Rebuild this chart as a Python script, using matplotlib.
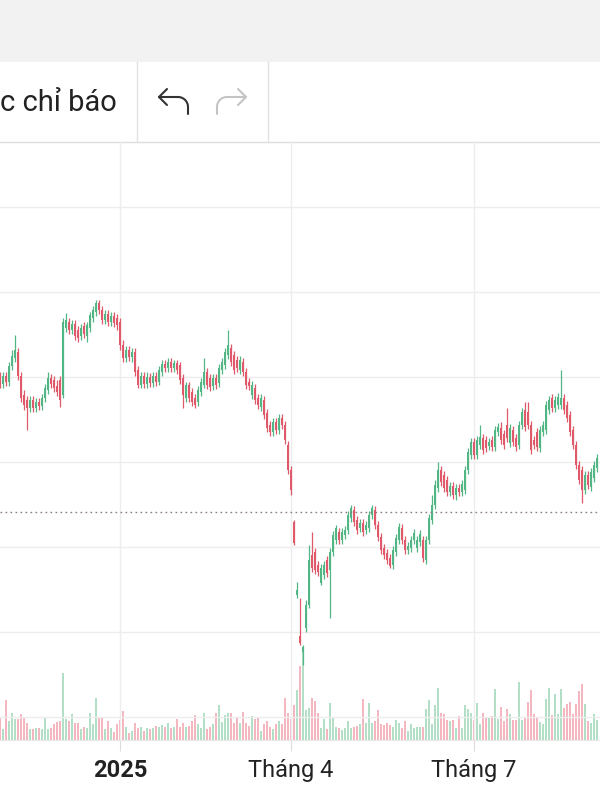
import numpy as np
import matplotlib
matplotlib.use('Agg')
import matplotlib.pyplot as plt
from matplotlib.patches import Rectangle

plt.rcParams['font.family'] = ['Roboto', 'DejaVu Sans']

# daily OHLC (price axis labels are cut off)
opens = [34.94, 34.59, 35.06, 34.71, 35.65, 36.12, 36.47, 35.06, 33.94, 33.65,
         33.18, 33.65, 33.18, 33.53, 33.30, 33.77, 34.24, 34.94, 34.83, 34.47,
         34.83, 33.94, 37.88, 38.24, 37.77, 38.12, 37.77, 37.41, 38.00, 37.41,
         37.88, 38.47, 38.82, 39.35, 38.94, 38.35, 38.71, 38.24, 38.59, 38.47,
         38.24, 36.88, 36.12, 36.59, 36.18, 36.47, 35.41, 34.53, 35.06, 34.59,
         35.00, 34.65, 35.06, 34.71, 35.30, 35.77, 35.53, 35.88, 35.53, 35.83,
         35.71, 34.94, 33.77, 34.53, 34.12, 33.77, 33.53, 34.12, 34.53, 35.30,
         34.94, 34.47, 34.94, 34.65, 35.41, 35.71, 36.30, 36.71, 36.30, 36.00,
         35.41, 35.88, 35.30, 34.71, 33.94, 34.36, 33.77, 33.24, 33.65, 32.89,
         32.18, 31.77, 32.36, 31.89, 32.59, 32.18, 31.00, 29.53, 26.48, 22.18,
         19.77, 18.83, 20.24, 21.59, 24.53, 24.71, 23.95, 22.89, 23.36, 24.24,
         23.65, 24.71, 25.42, 25.89, 25.42, 25.71, 26.01, 26.71, 27.18, 26.59,
         26.12, 26.42, 26.01, 26.12, 26.89, 27.18, 26.30, 25.59, 24.95, 24.65,
         24.36, 23.95, 24.71, 25.42, 26.12, 25.42, 24.83, 24.95, 25.42, 24.95,
         25.30, 25.42, 24.24, 25.42, 26.59, 27.48, 28.48, 29.53, 29.24, 28.95,
         28.24, 28.59, 28.06, 28.48, 28.24, 28.36, 29.53, 30.42, 31.18, 30.42,
         31.00, 31.42, 31.30, 30.95, 31.30, 30.89, 31.77, 32.00, 31.65, 32.18,
         31.12, 31.89, 31.42, 31.00, 32.18, 33.06, 32.94, 32.18, 31.30, 31.77,
         30.83, 31.77, 31.89, 33.06, 33.77, 33.18, 33.36, 33.36, 33.77, 33.36,
         32.77, 31.89, 31.00, 29.83, 29.53, 28.36, 29.24, 28.53, 29.06, 29.65]
closes = [34.59, 35.06, 34.71, 35.65, 36.24, 36.59, 35.06, 33.77, 33.36, 33.18,
          33.65, 33.18, 33.53, 33.30, 33.77, 34.36, 34.94, 34.59, 34.36, 34.12,
          33.65, 38.24, 38.35, 37.77, 38.12, 37.41, 37.30, 37.88, 37.53, 38.06,
          38.65, 38.94, 39.35, 38.94, 38.35, 38.71, 38.24, 38.59, 38.18, 38.06,
          36.88, 36.12, 36.59, 36.18, 36.47, 35.30, 34.53, 35.06, 34.59, 35.00,
          34.65, 35.06, 34.71, 35.41, 35.77, 35.53, 35.88, 35.53, 35.83, 35.41,
          34.83, 33.94, 34.53, 33.77, 33.53, 33.36, 34.24, 34.71, 35.30, 34.53,
          34.41, 34.94, 34.53, 35.53, 35.88, 36.47, 36.88, 35.88, 35.41, 35.53,
          36.00, 35.30, 34.53, 34.47, 34.53, 33.65, 33.36, 33.77, 32.77, 32.00,
          31.77, 32.36, 31.89, 32.59, 32.18, 31.30, 29.53, 28.36, 25.24, 22.48,
          19.36, 19.13, 21.59, 24.24, 23.77, 23.65, 23.54, 23.77, 23.95, 23.48,
          24.71, 25.71, 26.12, 25.42, 25.89, 26.01, 26.89, 27.30, 26.48, 26.01,
          26.42, 25.89, 26.30, 26.89, 27.30, 26.30, 25.59, 24.83, 24.53, 24.24,
          23.89, 24.83, 25.54, 26.18, 25.42, 24.83, 25.06, 25.42, 25.83, 25.42,
          25.77, 24.36, 25.42, 26.71, 27.48, 28.65, 29.53, 28.83, 28.48, 28.24,
          28.59, 28.06, 28.48, 28.24, 28.71, 29.53, 30.59, 31.18, 30.42, 31.30,
          31.47, 30.71, 30.83, 31.18, 30.89, 31.89, 32.06, 31.30, 31.00, 31.42,
          32.00, 31.18, 30.89, 32.18, 32.94, 32.06, 32.18, 30.71, 31.00, 30.89,
          31.89, 32.18, 33.36, 33.65, 33.18, 33.65, 33.83, 33.77, 33.06, 32.59,
          31.77, 31.00, 29.83, 28.95, 28.36, 29.24, 28.65, 29.42, 29.83, 30.24]
highs = [35.30, 35.30, 35.30, 35.88, 36.59, 37.47, 36.71, 35.30, 34.24, 33.89,
         33.89, 33.89, 33.77, 33.77, 34.00, 34.59, 35.30, 35.18, 35.06, 34.83,
         35.06, 38.47, 38.77, 38.47, 38.35, 38.35, 38.00, 38.12, 38.24, 38.24,
         38.82, 39.18, 39.53, 39.53, 39.18, 38.94, 38.94, 38.82, 38.82, 38.71,
         38.47, 37.18, 36.82, 36.82, 36.71, 36.71, 35.65, 35.30, 35.30, 35.30,
         35.24, 35.30, 35.30, 35.65, 36.00, 36.00, 36.12, 36.12, 36.00, 36.00,
         35.88, 35.18, 34.71, 34.71, 34.36, 34.00, 34.47, 34.94, 36.12, 35.53,
         35.18, 35.18, 35.18, 35.77, 36.12, 36.71, 37.77, 36.94, 36.53, 36.24,
         36.24, 36.12, 35.53, 34.94, 34.77, 34.59, 34.00, 34.00, 33.89, 33.12,
         32.41, 32.59, 32.59, 32.83, 32.83, 32.41, 31.24, 29.77, 26.59, 22.95,
         22.00, 19.24, 21.89, 25.12, 25.89, 24.95, 24.18, 24.01, 24.18, 24.48,
         24.95, 25.95, 26.30, 26.12, 26.12, 26.24, 27.12, 27.48, 27.42, 26.83,
         26.65, 26.65, 26.54, 27.12, 27.48, 27.42, 26.54, 25.83, 25.18, 24.89,
         24.59, 25.06, 25.77, 26.42, 26.36, 25.65, 25.30, 25.65, 26.06, 25.65,
         26.01, 25.65, 25.65, 26.95, 28.06, 28.95, 30.00, 29.77, 29.47, 29.18,
         28.83, 28.83, 28.71, 28.71, 28.95, 29.77, 30.83, 31.42, 31.42, 31.53,
         32.18, 31.65, 31.53, 31.42, 31.53, 32.12, 32.30, 32.36, 31.89, 33.18,
         32.24, 32.12, 31.65, 32.41, 33.18, 33.53, 33.53, 32.41, 31.53, 32.00,
         32.12, 32.41, 33.59, 33.89, 34.00, 33.89, 34.06, 35.41, 34.00, 33.59,
         33.00, 32.12, 31.24, 30.06, 29.77, 29.47, 29.47, 29.65, 30.06, 30.47]
lows = [34.36, 34.36, 34.47, 34.47, 35.41, 35.88, 34.83, 33.53, 33.06, 31.89,
        32.94, 32.94, 32.94, 33.06, 33.06, 33.53, 34.00, 34.36, 34.12, 33.89,
        33.24, 33.77, 37.65, 37.53, 37.53, 37.18, 37.06, 37.18, 37.30, 37.06,
        37.65, 38.24, 38.59, 38.71, 38.12, 38.12, 38.00, 38.00, 37.94, 37.77,
        36.59, 35.88, 35.88, 35.94, 35.88, 35.06, 34.36, 34.36, 34.36, 34.36,
        34.41, 34.41, 34.47, 34.53, 35.06, 35.30, 35.30, 35.30, 35.30, 35.18,
        34.59, 33.18, 33.53, 33.53, 33.30, 33.18, 33.30, 33.89, 34.36, 34.30,
        34.18, 34.24, 34.30, 34.41, 35.18, 35.47, 36.06, 35.65, 35.18, 35.30,
        35.18, 35.06, 34.30, 34.24, 33.71, 33.41, 33.12, 33.00, 32.53, 31.77,
        31.53, 31.53, 31.65, 31.65, 31.94, 31.06, 29.30, 28.06, 25.12, 22.00,
        19.24, 18.07, 20.01, 21.42, 23.54, 23.42, 23.30, 22.77, 23.12, 23.24,
        20.83, 24.48, 25.18, 25.18, 25.18, 25.48, 25.77, 26.48, 26.24, 25.77,
        25.89, 25.65, 25.77, 25.89, 26.65, 26.06, 25.36, 24.59, 24.30, 24.01,
        23.77, 23.71, 24.48, 25.18, 25.18, 24.59, 24.59, 24.71, 25.18, 24.71,
        25.06, 24.12, 24.01, 25.18, 26.36, 27.24, 28.24, 28.59, 28.24, 28.01,
        28.01, 27.83, 27.77, 28.01, 28.01, 28.12, 29.30, 30.18, 30.18, 30.18,
        30.77, 30.48, 30.59, 30.71, 30.65, 30.65, 31.53, 31.06, 30.77, 31.18,
        30.89, 30.95, 30.65, 30.77, 31.94, 31.83, 31.94, 30.48, 30.77, 30.65,
        30.59, 31.53, 31.65, 32.83, 32.94, 32.94, 33.12, 33.12, 32.83, 32.36,
        31.53, 30.77, 29.59, 28.71, 27.59, 28.12, 28.42, 28.30, 28.83, 29.42]
volumes = [23, 11, 40, 19, 27, 21, 21, 26, 22, 17, 11, 11, 12, 12, 11, 23, 11, 12, 16, 18,
           19, 67, 21, 19, 26, 17, 17, 11, 13, 12, 27, 16, 42, 23, 22, 11, 19, 12, 8, 16,
           20, 29, 13, 7, 9, 17, 12, 13, 9, 12, 11, 12, 14, 13, 15, 13, 17, 12, 13, 21,
           13, 17, 13, 14, 19, 25, 16, 12, 27, 11, 13, 16, 27, 35, 18, 25, 27, 27, 17, 22,
           17, 28, 17, 14, 24, 21, 23, 9, 16, 19, 13, 11, 16, 19, 16, 42, 27, 21, 35, 50,
           74, 92, 30, 32, 42, 39, 27, 12, 21, 11, 37, 22, 13, 12, 10, 12, 19, 12, 13, 14,
           16, 41, 17, 37, 17, 19, 30, 16, 15, 17, 15, 13, 20, 17, 12, 19, 9, 16, 12, 13,
           13, 13, 31, 40, 16, 35, 52, 27, 26, 20, 19, 20, 12, 24, 12, 35, 31, 27, 20, 37,
           16, 27, 22, 22, 24, 51, 21, 33, 19, 31, 26, 20, 20, 58, 20, 22, 38, 50, 26, 22,
           18, 16, 41, 52, 25, 46, 26, 51, 32, 36, 38, 26, 36, 49, 56, 36, 19, 17, 26, 20]
tick_pos = [40, 97, 158]
tick_labels = ['2025', 'Tháng 4', 'Tháng 7']
ref_price = 27.05

GREEN = '#52b584'
RED = '#e0596a'
GREEN_V = '#b3dfc7'
RED_V = '#f4b6bf'

o = np.array(opens)
c = np.array(closes)
x = np.arange(len(c))
up = c >= o
cols = np.where(up, GREEN, RED)
vcols = np.where(up, GREEN_V, RED_V)

fig = plt.figure(figsize=(6, 8), dpi=100)

# app toolbar drawn in pixel coords
bg = fig.add_axes([0, 0, 1, 1])
bg.set_xlim(0, 600)
bg.set_ylim(800, 0)
bg.axis('off')
bg.add_patch(Rectangle((0, 0), 600, 62, color='#f2f2f2', lw=0))
bg.plot([0, 600], [142, 142], color='#dcdcdc', lw=1)
bg.plot([137, 137], [62, 142], color='#e2e2e2', lw=1)
bg.plot([268, 268], [62, 142], color='#e2e2e2', lw=1)
bg.text(0, 103, 'c chỉ báo', fontsize=21, color='#222222', va='center', ha='left')

t = np.linspace(0, np.pi / 2, 20)
# undo
ux = np.concatenate([[159, 178], 178 + 10 * np.sin(t), [188]])
uy = np.concatenate([[97, 97], 107 - 10 * np.cos(t), [114]])
bg.plot(ux, uy, color='#333333', lw=1.5, solid_capstyle='round')
bg.plot([167, 159, 167], [89, 97, 105], color='#333333', lw=1.5, solid_capstyle='round')
# redo
rx = np.concatenate([[246, 227], 227 - 10 * np.sin(t), [217]])
bg.plot(rx, uy, color='#c4c4c4', lw=1.5, solid_capstyle='round')
bg.plot([238, 246, 238], [89, 97, 105], color='#c4c4c4', lw=1.5, solid_capstyle='round')

# price + volume panel
ax = fig.add_axes([0, 60 / 800, 1, 598 / 800])
axv = ax.twinx()
ax.set_zorder(axv.get_zorder() + 1)
ax.patch.set_visible(False)

axv.bar(x, volumes, width=0.62, color=vcols, lw=0)
axv.set_ylim(0, 598)
axv.set_yticks([])
for s in axv.spines.values():
    s.set_visible(False)

ax.vlines(x, lows, highs, colors=cols, lw=0.9)
ax.bar(x, np.maximum(np.abs(c - o), 0.06), bottom=np.minimum(o, c), width=0.75, color=cols, lw=0)
ax.axhline(ref_price, color='#8a7c7c', lw=1, ls=(0, (1.2, 2.4)))

ax.set_xlim(0, len(c))
ax.set_ylim(13.647, 48.824)
ax.set_yticks([15, 20, 25, 30, 35, 40, 45])
ax.set_yticklabels([])
ax.tick_params(axis='y', length=0)
ax.set_xticks(tick_pos)
ax.set_xticklabels(tick_labels, fontsize=17, color='#222222')
ax.get_xticklabels()[0].set_fontweight('bold')
ax.tick_params(axis='x', length=8, color='#dddddd', pad=6)
ax.grid(True, color='#ededed', lw=1)
ax.set_axisbelow(True)
for k in ['top', 'left', 'right']:
    ax.spines[k].set_visible(False)
ax.spines['bottom'].set_color('#e8e8e8')

fig.savefig('out.png', dpi=100)
